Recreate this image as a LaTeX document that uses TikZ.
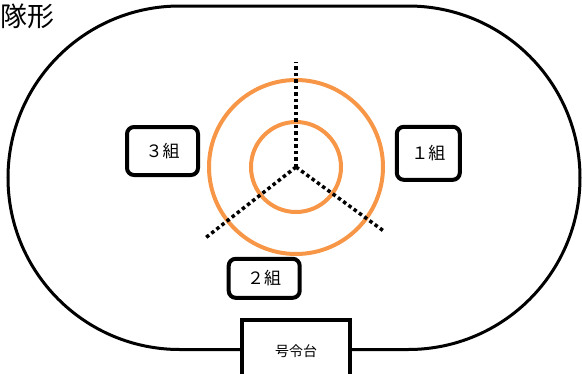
\documentclass[tikz,border=0pt]{standalone}
\usepackage{fontspec}
\newfontfamily\jp{Noto Sans CJK JP}
\definecolor{kreisorange}{HTML}{F79646}
\tikzset{gruppe/.style={draw = black,
        line width = 4pt,
        rounded corners = 7pt,
        fill = white,
        inner sep = 0pt,
        font = \jp\fontsize{17}{17}\selectfont},
    punktlinie/.style={line width = 3.5pt, dash pattern = on 3.5pt off 3pt}}

\begin{document}
\begin{tikzpicture}[x=1pt, y=-1pt]

    \useasboundingbox (0,0) rectangle (582,373);

    %Bahn
    \draw[line width = 3pt, rounded corners = 171.75pt] (8,6) rectangle (580,349.5);

    %Titel
    \node[anchor=west, inner sep=0pt, font=\jp\fontsize{27}{27}\selectfont] (titel) at (0,16) {隊形};

    %Kreise
    \coordinate (mitte) at (296,167);
    \draw[kreisorange, line width = 4pt] (mitte) circle[radius=87];
    \draw[kreisorange, line width = 4pt] (mitte) circle[radius=45];

    %Linien
    \coordinate (oben)   at (296,62);
    \coordinate (links)  at (206,237.5);
    \coordinate (rechts) at (383,230.5);
    \draw[punktlinie] (mitte) -- (oben);
    \draw[punktlinie] (mitte) -- (links);
    \draw[punktlinie] (mitte) -- (rechts);

    %Gruppen
    \node[gruppe, minimum width = 63pt, minimum height = 53pt] (eins) at (428.3,153.3) {１組};
    \node[gruppe, minimum width = 71pt, minimum height = 39pt] (zwei) at (264.2,278.3) {２組};
    \node[gruppe, minimum width = 71pt, minimum height = 48pt] (drei) at (162.5,151) {３組};

    %Podest
    \node[gruppe, rounded corners = 0pt, minimum width = 108pt, minimum height = 61pt,
        font = \jp\fontsize{14}{14}\selectfont] (podest) at (296,350.7) {号令台};

\end{tikzpicture}
\end{document}
